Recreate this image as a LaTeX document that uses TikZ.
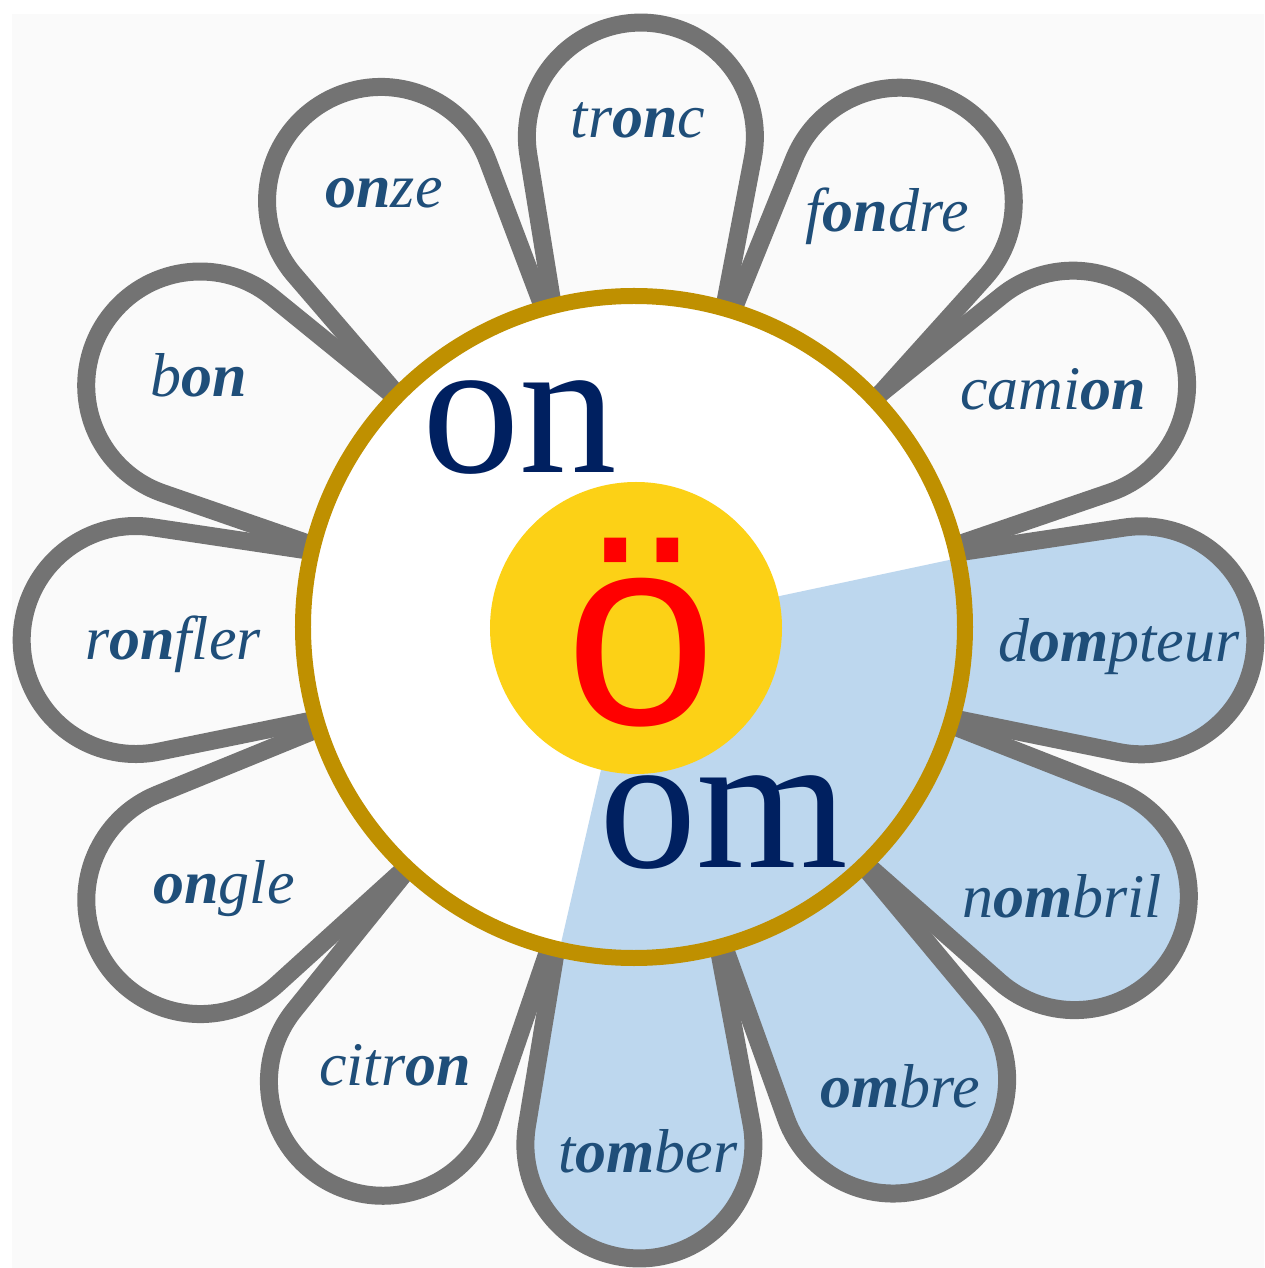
\documentclass[tikz,border=0pt]{standalone}
\usepackage{fontspec}
\setmainfont{Liberation Serif}
\newfontfamily\arialfont{Liberation Sans}

\definecolor{bggray}{HTML}{FAFAFA}
\definecolor{petalgray}{HTML}{737373}
\definecolor{petalblue}{HTML}{BDD7EE}
\definecolor{ringgold}{HTML}{BF9000}
\definecolor{heartyellow}{HTML}{FCD116}
\definecolor{navy}{HTML}{002060}
\definecolor{wordblue}{HTML}{1F4E79}

% angle / tip radius / fill of each petal
\newcommand\petals{89.2/604/bggray, 58/615/bggray, 28.9/615/bggray,
    -1.5/621/petalblue, -31.4/630/petalblue, -60.2/635/petalblue,
    -89.4/631/petalblue, -118.9/633/bggray, -147.8/626/bggray,
    181.5/612/bggray, 150.9/610/bggray, 120.7/609/bggray}

\begin{document}
\begin{tikzpicture}[x=1pt, y=1pt,
        petal/.style={line width=18pt, draw=petalgray, line join=round},
        word/.style={text=wordblue, font=\fontsize{62}{62}\selectfont\itshape, anchor=base, inner sep=0pt},
        syllable/.style={text=navy, font=\fontsize{195}{195}\selectfont, anchor=base, inner sep=0pt, text height=90pt, text depth=0pt}
    ]
    \useasboundingbox (-634,-641) rectangle (630,627);
    \fill[white] (-634,-641) rectangle (630,627);
    \fill[bggray] (-622,-641) rectangle (630,613);

    % petals: fills first, then outlines
    \foreach \ang/\tip/\col in \petals {
        \pgfmathsetmacro\capx{\tip-133.3}
        \fill[\col, rotate=\ang] (\capx,-112.3) ++(170:220pt) -- ++(-10:220pt)
            arc[start angle=-100, end angle=100, radius=114pt] -- ++(190:220pt) -- cycle;
    }
    \foreach \ang/\tip/\col in \petals {
        \pgfmathsetmacro\capx{\tip-133.3}
        \draw[petal, rotate=\ang] (\capx,-112.3) ++(170:220pt) -- ++(-10:220pt)
            arc[start angle=-100, end angle=100, radius=114pt] -- ++(190:220pt) -- cycle;
    }

    % heart of the flower
    \fill[white] (0,0) circle[radius=331pt];
    \fill[petalblue] (0,0) -- (12:331pt) arc[start angle=12, end angle=-103, radius=331pt] -- cycle;
    \draw[ringgold, line width=16pt] (0,0) circle[radius=331pt];
    \fill[heartyellow] (2,-1) circle[radius=146pt];

    \node[text=red, font=\arialfont\fontsize{272}{272}\selectfont, anchor=base, inner sep=0pt, text depth=0pt] (vowel) at (7,-97) {ö};
    \node[syllable] (on) at (-114,154) {on};
    \node[syllable] (om) at (90,-240) {om};

    \node[word] (tronc) at (4,489) {tr\textbf{on}c};
    \node[word] (fondre) at (253,395) {f\textbf{on}dre};
    \node[word] (camion) at (419,217) {cami\textbf{on}};
    \node[word] (dompteur) at (485,-35) {d\textbf{om}pteur};
    \node[word] (nombril) at (428,-290) {n\textbf{om}bril};
    \node[word] (ombre) at (266,-480) {\textbf{om}bre};
    \node[word] (tomber) at (14,-545) {t\textbf{om}ber};
    \node[word] (citron) at (-239,-458) {citr\textbf{on}};
    \node[word] (ongle) at (-410,-276) {\textbf{on}gle};
    \node[word] (ronfler) at (-461,-33) {r\textbf{on}fler};
    \node[word] (bon) at (-435,230) {b\textbf{on}};
    \node[word] (onze) at (-250,419) {\textbf{on}ze};
\end{tikzpicture}
\end{document}
